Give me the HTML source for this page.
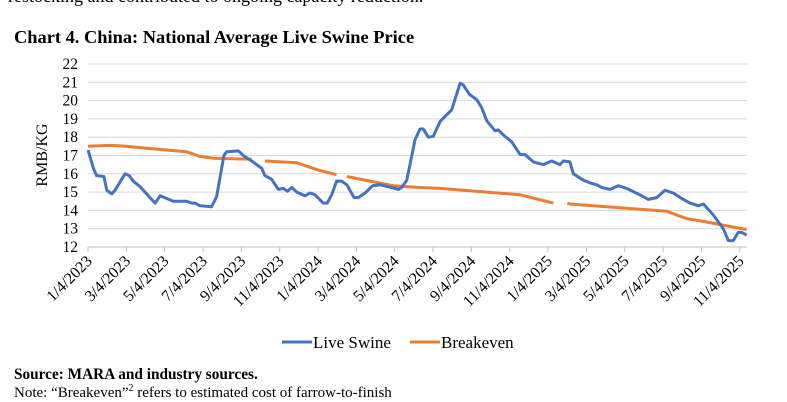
<!DOCTYPE html>
<html><head><meta charset="utf-8"><style>
body{margin:0;width:787px;height:402px;overflow:hidden;background:#fff;font-family:"Liberation Serif",serif;position:relative}
.t{position:absolute;white-space:nowrap;color:#000}
</style></head><body>
<div class="t" style="left:8px;top:-14px;font-size:18px">restocking and contributed to ongoing capacity reduction.</div>
<div class="t" style="left:14px;top:27px;font-size:18.4px;font-weight:bold">Chart 4. China: National Average Live Swine Price</div>
<svg id="c" width="787" height="402" style="position:absolute;left:0;top:0"></svg>
<div class="t" style="left:14px;top:366px;font-size:15.3px;font-weight:bold">Source: MARA and industry sources.</div>
<div class="t" style="left:14px;top:383px;font-size:15px">Note: “Breakeven”<sup style="font-size:10px">2</sup> refers to estimated cost of farrow-to-finish</div>
<script>
const yTicks=[12,13,14,15,16,17,18,19,20,21,22];
const xTickLabels=["1/4/2023","3/4/2023","5/4/2023","7/4/2023","9/4/2023","11/4/2023","1/4/2024","3/4/2024","5/4/2024","7/4/2024","9/4/2024","11/4/2024","1/4/2025","3/4/2025","5/4/2025","7/4/2025","9/4/2025","11/4/2025"];
const xTickMonths=[0,2,4,6,8,10,12,14,16,18,20,22,24,26,28,30,32,34];
const swineMonths=[0,0.28,0.45,0.83,0.98,1.24,1.41,1.93,2.15,2.36,2.71,3.5,3.76,4.45,5.15,5.41,5.58,5.84,6.45,6.71,7.09,7.23,7.84,8.1,8.54,9.06,9.23,9.58,9.93,10.19,10.4,10.63,10.89,11.32,11.58,11.84,12.27,12.48,12.71,12.97,13.23,13.5,13.88,14.1,14.45,14.85,15.23,15.84,16.19,16.36,16.63,17.06,17.32,17.49,17.75,18.01,18.36,18.97,19.41,19.58,19.89,20.28,20.54,20.8,21.23,21.4,21.75,22.1,22.54,22.8,23.23,23.75,24.19,24.62,24.8,25.14,25.32,25.84,26.19,26.54,26.8,27.23,27.66,28.1,28.79,29.23,29.67,30.1,30.53,30.97,31.41,31.84,32.1,32.62,33.14,33.4,33.66,33.92,34.1,34.36];
const swineValues=[17.3,16.3,15.9,15.85,15.1,14.9,15.1,16.0,15.9,15.6,15.3,14.4,14.8,14.5,14.5,14.4,14.4,14.25,14.2,14.75,17.0,17.2,17.25,17.0,16.7,16.3,15.9,15.7,15.15,15.2,15.05,15.25,15.0,14.8,14.95,14.85,14.4,14.4,14.85,15.6,15.6,15.4,14.7,14.7,14.95,15.35,15.4,15.25,15.15,15.25,15.65,17.85,18.45,18.45,18.0,18.05,18.85,19.5,20.95,20.85,20.35,20.05,19.6,18.9,18.35,18.4,18.05,17.75,17.05,17.05,16.65,16.5,16.7,16.5,16.7,16.65,16.0,15.65,15.5,15.4,15.25,15.15,15.35,15.2,14.85,14.6,14.7,15.1,14.95,14.65,14.4,14.25,14.35,13.75,13.0,12.35,12.35,12.8,12.8,12.65];
const breakevenMonths=[0,1.13,2.0,3.56,5.15,5.84,6.54,8.54,null,9.23,10.89,12.02,12.97,null,13.5,14.71,15.93,17.3,18.36,22.54,24.27,null,25.0,25.14,30.18,31.23,32.1,34.36];
const breakevenValues=[17.5,17.55,17.5,17.35,17.2,16.95,16.85,16.8,null,16.7,16.6,16.2,15.95,null,15.85,15.6,15.35,15.25,15.2,14.85,14.4,null,14.38,14.35,13.95,13.55,13.4,12.95];
const NS="http://www.w3.org/2000/svg";
const svg=document.getElementById('c');
const x=m=>88+m*19.17;
const y=v=>247-(v-12)*18.3;
function mk(t,a){const e=document.createElementNS(NS,t);for(const k in a)e.setAttribute(k,a[k]);svg.appendChild(e);return e;}
yTicks.forEach(v=>{
 const l=mk('line',{x1:88,x2:747,y1:y(v),y2:y(v),stroke:v===12?'#bfbfbf':'#d9d9d9','stroke-width':1});
 
 
 const t=mk('text',{x:78,y:y(v)+5,'text-anchor':'end','font-size':15.5,'font-family':'Liberation Serif, serif'});
 t.textContent=v;
 
 
});
xTickMonths.forEach((m,i)=>{
 const tk=mk('line',{x1:x(m),x2:x(m),y1:247,y2:252,stroke:'#bfbfbf'});
 
 
 const t=mk('text',{x:0,y:0,'text-anchor':'end','font-size':16,'font-family':'Liberation Serif, serif',transform:`translate(${x(m)+5},${262}) rotate(-45)`});
 t.textContent=xTickLabels[i];
 
 
});
const yt=mk('text',{x:0,y:0,'text-anchor':'middle','font-size':16,'font-family':'Liberation Serif, serif',transform:'translate(47,155) rotate(-90)'});
yt.textContent='RMB/KG';


function path(ms,vs){let d='',pen=false;ms.forEach((m,i)=>{if(m===null){pen=false;return;}d+=(pen?'L':'M')+x(m).toFixed(1)+','+y(vs[i]).toFixed(1);pen=true;});return d;}
const bp=mk('path',{d:path(breakevenMonths,breakevenValues),fill:'none',stroke:'#ed7d31','stroke-width':3,'stroke-linejoin':'round'});


const sp=mk('path',{d:path(swineMonths,swineValues),fill:'none',stroke:'#4472c4','stroke-width':3,'stroke-linejoin':'round'});


const l1=mk('line',{x1:282,x2:312,y1:342,y2:342,stroke:'#4472c4','stroke-width':3});


const lt1=mk('text',{x:313,y:348,'font-size':17,'font-family':'Liberation Serif, serif'});
lt1.textContent='Live Swine';


const l2=mk('line',{x1:410,x2:440,y1:342,y2:342,stroke:'#ed7d31','stroke-width':3});


const lt2=mk('text',{x:441,y:348,'font-size':17,'font-family':'Liberation Serif, serif'});
lt2.textContent='Breakeven';


</script>
</body></html>
